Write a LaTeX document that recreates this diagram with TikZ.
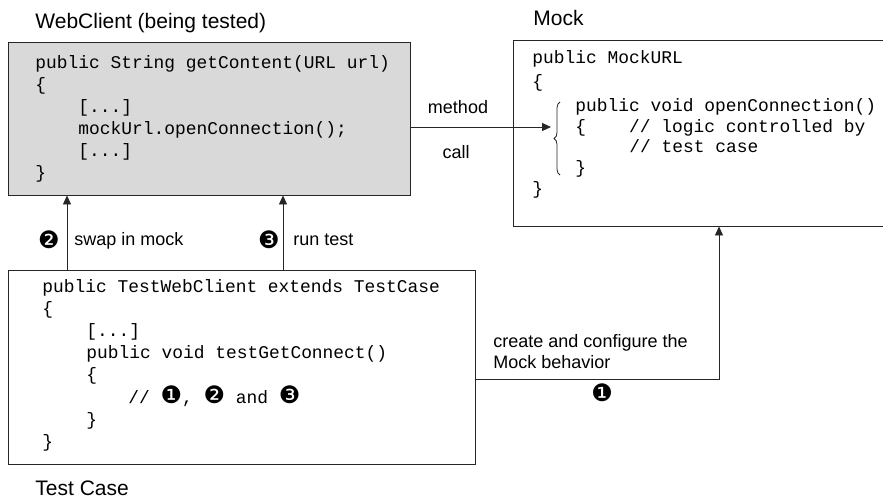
\documentclass[tikz,border=0pt]{standalone}
\usepackage{fontspec}
\setmainfont{Liberation Sans}
\setmonofont{Liberation Mono}
\newfontfamily\dingfont{DejaVu Sans}
\usepackage{tikz}
\usetikzlibrary{arrows.meta}
\usetikzlibrary{decorations.pathreplacing}

\definecolor{boxgray}{HTML}{D9D9D9}
\definecolor{linegray}{HTML}{262626}
\newcommand{\dnum}[1]{{\dingfont\fontsize{24}{22}\selectfont #1}}

\begin{document}
\begin{tikzpicture}[x=1pt, y=-1pt, line width=0.9pt,
    codebox/.style={draw=linegray, inner sep=0pt},
    code/.style={font=\ttfamily\fontsize{17.9}{22}\selectfont, anchor=base west, inner sep=0pt},
    boxtitle/.style={font=\fontsize{21}{25}\selectfont, anchor=base west, inner sep=0pt},
    lab/.style={font=\fontsize{18}{22}\selectfont, anchor=base west, inner sep=0pt},
    num/.style={font=\dingfont\fontsize{24}{22}\selectfont, inner sep=0pt},
    arr/.style={draw=linegray, -{Triangle[length=9pt, width=8pt]}}]

    % page size
    \useasboundingbox (0, 0) rectangle (883, 499);

    % boxes
    \node[codebox, fill=boxgray, minimum width=402pt, minimum height=153pt] (client) at (209, 118.5) {};
    \node[codebox, minimum width=371pt, minimum height=186pt] (mock) at (698.5, 133) {};
    \node[codebox, minimum width=467pt, minimum height=194pt] (test) at (241.5, 367) {};

    % box titles
    \node[boxtitle] (clienttitle) at (35, 28) {WebClient (being tested)};
    \node[boxtitle] (mocktitle) at (533, 25) {Mock};
    \node[boxtitle] (testtitle) at (35, 495) {Test Case};

    % code of the client
    \foreach \x / \y / \txt [count=\i] in {35 / 68 / {public String getContent(URL url)}, 35 / 90 / \{,
      78 / 112 / {[...]}, 78 / 134 / {mockUrl.openConnection();}, 78 / 156 / {[...]}, 35 / 178 / \}}
    \node[code] (wc\i) at (\x, \y) {\txt};

    % code of the mock
    \foreach \x / \y / \txt [count=\i] in {532 / 63 / {public MockURL}, 532 / 87 / \{,
      575 / 111 / {public void openConnection()}, 575 / 132 / {\{\hspace*{2.4em}// logic controlled by},
      629 / 152 / {// test case}, 575 / 173 / \}, 532 / 194 / \}}
    \node[code] (mc\i) at (\x, \y) {\txt};

    % code of the test case
    \foreach \x / \y / \txt [count=\i] in {42 / 292 / {public TestWebClient extends TestCase}, 42 / 314 / \{,
      86 / 336 / {[...]}, 86 / 358 / {public void testGetConnect()}, 86 / 380 / \{,
      128 / 403 / {// \dnum{❶}, \dnum{❷} and \dnum{❸}}, 86 / 425 / \}, 42 / 447 / \}}
    \node[code] (tc\i) at (\x, \y) {\txt};

    % brace round openConnection
    \coordinate (bracebot) at (560, 175);
    \coordinate (bracetop) at (560, 102);
    \draw[linegray, line width=0.8pt, decorate, decoration={brace, amplitude=6pt}] (bracebot) -- (bracetop);

    % method call
    \coordinate (callend) at (551, 127);
    \draw[arr] (client.east |- callend) -- (callend);
    \node[lab, anchor=base] (method) at (458, 113) {method};
    \node[lab, anchor=base] (call) at (456, 158) {call};

    % swap in mock, run test
    \coordinate (swapx) at (67, 240);
    \coordinate (runx) at (283, 240);
    \draw[arr] (test.north -| swapx) -- (client.south -| swapx);
    \draw[arr] (test.north -| runx) -- (client.south -| runx);
    \node[num] (n2) at (49, 240) {❷};
    \node[lab] (swap) at (74, 245) {swap in mock};
    \node[num] (n3) at (269, 240) {❸};
    \node[lab] (runtest) at (293, 245) {run test};

    % configure the mock
    \coordinate (bend) at (719, 379);
    \draw[arr] (test.east |- bend) -- (bend) -- (mock.south -| bend);
    \node[lab] (configure) at (493, 347) {create and configure the};
    \node[lab] (behavior) at (493, 368) {Mock behavior};
    \node[num] (n1) at (602, 393) {❶};

\end{tikzpicture}
\end{document}
